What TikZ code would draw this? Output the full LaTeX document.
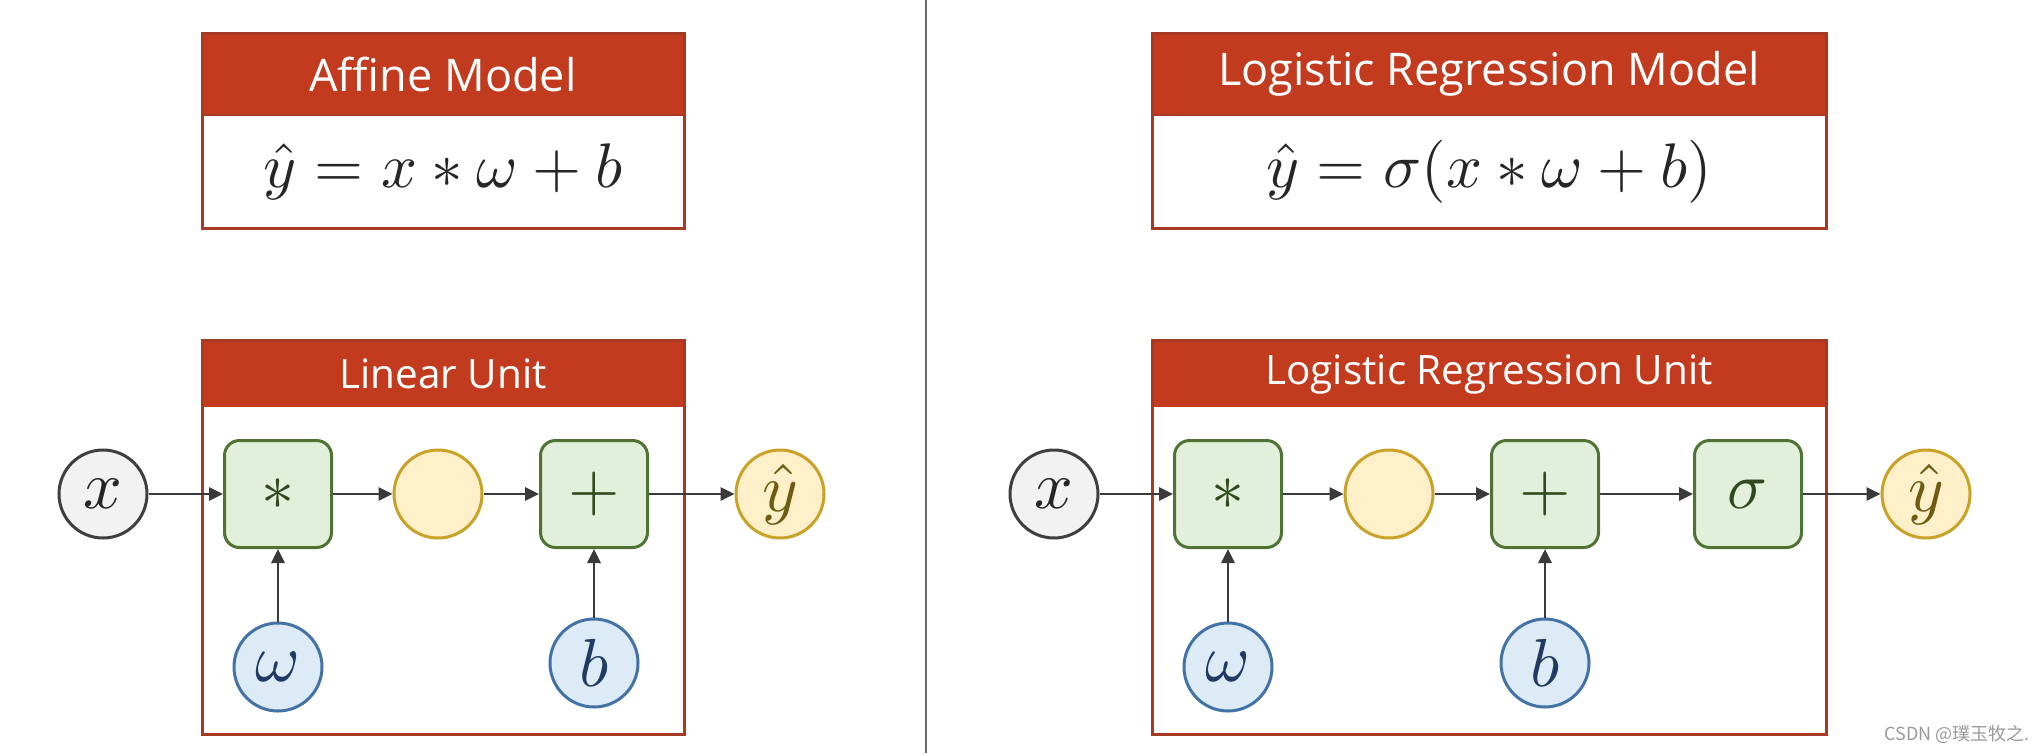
\documentclass[tikz,border=0pt]{standalone}
\usepackage[no-math]{fontspec}
\setmainfont{Open Sans}
\newfontfamily\cjkfont{Noto Sans CJK SC}
\DeclareFontShape{OML}{cmm}{m}{it}{<->cmmi10}{}
\DeclareFontShape{OMS}{cmsy}{m}{n}{<->cmsy10}{}
\DeclareFontShape{OT1}{cmr}{m}{n}{<->cmr10}{}
\usetikzlibrary{arrows.meta}
\definecolor{hdr}{HTML}{C23B1E}
\definecolor{frm}{HTML}{A63A24}
\definecolor{gfill}{HTML}{E2EFDA}
\definecolor{gline}{HTML}{4F7332}
\definecolor{gtext}{HTML}{2F4A1E}
\definecolor{bfill}{HTML}{DDEBF7}
\definecolor{bline}{HTML}{4372A6}
\definecolor{btext}{HTML}{1F3B63}
\definecolor{yfill}{HTML}{FFF0C9}
\definecolor{yline}{HTML}{C9A227}
\definecolor{ytext}{HTML}{6E5A10}
\definecolor{xfill}{HTML}{F2F2F2}
\definecolor{xline}{HTML}{3F3F3F}
\definecolor{arr}{HTML}{3A3A3A}
\definecolor{divc}{HTML}{6A6A6A}
\definecolor{wmc}{HTML}{9A9A9A}
\begin{document}
\begin{tikzpicture}[x=1pt,y=-1pt,
  frame/.style={draw=frm,line width=3pt},
  hdrfill/.style={fill=hdr},
  bigtitle/.style={text=white,font=\fontsize{45}{50}\selectfont,inner sep=0pt},
  smalltitle/.style={text=white,font=\fontsize{40.5}{46}\selectfont,inner sep=0pt},
  formula/.style={text=black!85,font=\fontsize{63}{70}\selectfont,inner sep=0pt},
  circ/.style={circle,minimum size=88pt,inner sep=0pt,line width=3pt,font=\fontsize{68}{72}\selectfont},
  xcirc/.style={circ,draw=xline,fill=xfill,text=black!85},
  ycirc/.style={circ,draw=yline,fill=yfill,text=ytext},
  bcirc/.style={circ,draw=bline,fill=bfill,text=btext},
  opbox/.style={rectangle,rounded corners=15pt,minimum size=107pt,inner sep=0pt,line width=3pt,draw=gline,fill=gfill,text=gtext,font=\fontsize{66}{70}\selectfont},
  conn/.style={draw=arr,line width=2.8pt,-{Triangle[length=14pt,width=13pt]}}
]
\useasboundingbox (0,0) rectangle (2044,753);
\fill[white] (0,0) rectangle (2044,753);

% divider
\draw[divc,line width=2pt] (926,0) -- (926,753);

% ---------- left: affine model ----------
\fill[hdrfill] (202,33) rectangle (684,115);
\draw[frame] (202,33) rectangle (684,228);
\draw[frm,line width=2pt] (202,115) -- (684,115);
\node[bigtitle] (t1) at (443,74) {Affine Model};
\node[formula] (f1) at (443,172) {$\hat{y} = x * \omega + b$};

% ---------- left: linear unit ----------
\fill[hdrfill] (202,340) rectangle (684,407);
\draw[frame] (202,340) rectangle (684,734);
\node[smalltitle] (t2) at (443,374) {Linear Unit};

\node[xcirc] (lx) at (103,494) {$x$};
\node[opbox] (lmul) at (278,494) {$*$};
\node[ycirc] (lmid) at (438,494) {};
\node[opbox] (ladd) at (594,494) {$+$};
\node[ycirc] (ly) at (780,494) {$\hat{y}$};
\node[bcirc] (lw) at (278,667) {$\omega$};
\node[bcirc] (lb) at (594,663) {$b$};

\draw[conn] (lx) -- (lmul);
\draw[conn] (lmul) -- (lmid);
\draw[conn] (lmid) -- (ladd);
\draw[conn] (ladd) -- (ly);
\draw[conn] (lw) -- (lmul);
\draw[conn] (lb) -- (ladd);

% ---------- right: logistic regression model ----------
\fill[hdrfill] (1152,33) rectangle (1826,115);
\draw[frame] (1152,33) rectangle (1826,228);
\draw[frm,line width=2pt] (1152,115) -- (1826,115);
\node[bigtitle] (t3) at (1489,74) {Logistic Regression Model};
\node[formula] (f2) at (1489,172) {$\hat{y} = \sigma(x * \omega + b)$};

% ---------- right: logistic regression unit ----------
\fill[hdrfill] (1152,340) rectangle (1826,407);
\draw[frame] (1152,340) rectangle (1826,734);
\node[smalltitle] (t4) at (1489,374) {Logistic Regression Unit};

\node[xcirc] (rx) at (1054,494) {$x$};
\node[opbox] (rmul) at (1228,494) {$*$};
\node[ycirc] (rmid) at (1389,494) {};
\node[opbox] (radd) at (1545,494) {$+$};
\node[opbox] (rsig) at (1748,494) {$\sigma$};
\node[ycirc] (ry) at (1926,494) {$\hat{y}$};
\node[bcirc] (rw) at (1228,667) {$\omega$};
\node[bcirc] (rb) at (1545,663) {$b$};

\draw[conn] (rx) -- (rmul);
\draw[conn] (rmul) -- (rmid);
\draw[conn] (rmid) -- (radd);
\draw[conn] (radd) -- (rsig);
\draw[conn] (rsig) -- (ry);
\draw[conn] (rw) -- (rmul);
\draw[conn] (rb) -- (radd);

% watermark
\node[anchor=base east,text=wmc,font=\cjkfont\fontsize{18}{20}\selectfont,inner sep=0pt] (wm) at (2030,740) {CSDN @璞玉牧之.};
\end{tikzpicture}
\end{document}
